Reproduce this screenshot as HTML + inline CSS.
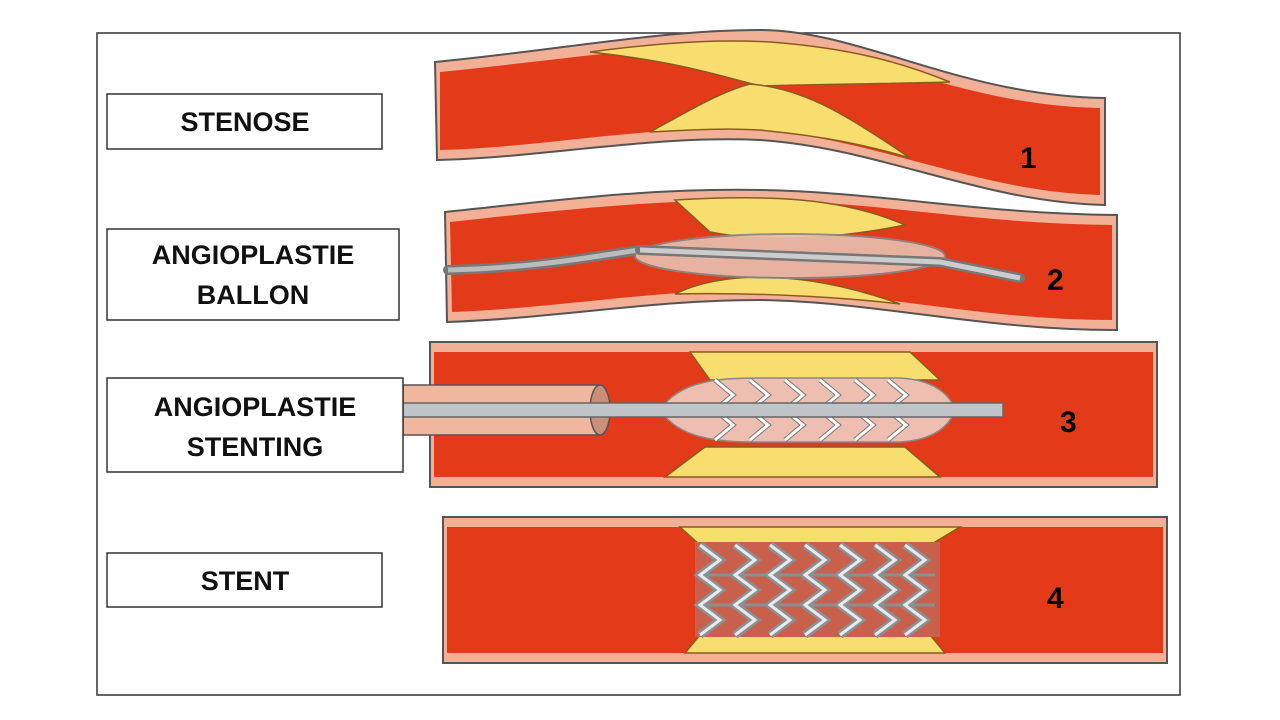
<!DOCTYPE html>
<html><head><style>body{margin:0;background:#fff}svg{display:block}text{font-family:"Liberation Sans",sans-serif;font-weight:bold}</style></head><body>
<svg width="1280" height="720" viewBox="0 0 1280 720">
<rect x="97" y="33" width="1083" height="662" fill="#fff" stroke="#333" stroke-width="1.5"/>
<!-- Vessel 1 -->
<path d="M435,62 C560,50 660,30 760,30 C860,30 960,96 1105,98 L1105,205 C980,202 880,148 760,140 C650,135 540,158 437,160 Z" fill="#f2b196" stroke="#555" stroke-width="2"/>
<path d="M440,72 C560,60 660,44 760,44 C860,44 960,106 1100,108 L1100,195 C980,192 880,140 760,130 C650,124 540,148 440,150 Z" fill="#e33a1a"/>
<path d="M590,52 C680,40 730,40 770,42 C850,48 900,62 950,82 C880,84 820,84 760,86 C720,76 680,62 590,52 Z" fill="#f8de6e" stroke="#8a5a20" stroke-width="1.5"/>
<path d="M650,132 C690,110 720,92 750,84 C800,88 840,110 910,158 C850,140 800,134 760,130 C720,128 690,130 650,132 Z" fill="#f8de6e" stroke="#8a5a20" stroke-width="1.5"/>
<text x="1020" y="168" font-size="30">1</text>
<!-- Vessel 2 -->
<path d="M445,212 C560,200 650,188 760,190 C880,192 980,214 1117,215 L1117,330 C980,330 880,302 760,300 C650,300 560,318 447,322 Z" fill="#f2b196" stroke="#555" stroke-width="2"/>
<path d="M450,222 C560,210 650,200 760,200 C880,202 980,224 1112,225 L1112,320 C980,320 880,292 760,290 C650,290 560,308 452,312 Z" fill="#e33a1a"/>
<path d="M675,200 C760,195 840,196 905,225 C830,240 760,242 710,232 Z" fill="#f8de6e" stroke="#8a5a20" stroke-width="1.5"/>
<path d="M675,294 C720,272 800,268 900,304 C850,298 760,292 675,294 Z" fill="#f8de6e" stroke="#8a5a20" stroke-width="1.5"/>
<path d="M448,270 C540,268 600,255 640,250" fill="none" stroke="#777" stroke-width="10" stroke-linecap="round"/>
<path d="M448,270 C540,268 600,255 640,250" fill="none" stroke="#bbb" stroke-width="5"/>
<ellipse cx="790" cy="256" rx="155" ry="22" fill="#e9c0b0" stroke="#888" stroke-width="2" opacity="0.9"/>
<path d="M640,250 L940,262 L1020,278" fill="none" stroke="#777" stroke-width="10" stroke-linecap="round"/>
<path d="M640,250 L940,262 L1020,278" fill="none" stroke="#ccc" stroke-width="5"/>
<text x="1047" y="290" font-size="30">2</text>
<!-- Vessel 3 -->
<rect x="430" y="342" width="727" height="145" fill="#f2b196" stroke="#555" stroke-width="2"/>
<rect x="434" y="352" width="719" height="125" fill="#e33a1a"/>
<path d="M690,352 L910,352 L940,380 L710,380 Z" fill="#f8de6e" stroke="#8a5a20" stroke-width="1.5"/>
<path d="M665,477 L940,477 L905,447 L705,447 Z" fill="#f8de6e" stroke="#8a5a20" stroke-width="1.5"/>
<rect x="403" y="385" width="197" height="50" fill="#f0b69e" stroke="#555" stroke-width="1.5"/>
<ellipse cx="600" cy="410" rx="10" ry="25" fill="#c98f7a" stroke="#555" stroke-width="1.5"/>
<path d="M660,410 C680,380 720,378 760,378 L900,378 C935,380 950,395 955,410 C950,425 935,440 900,442 L760,442 C720,442 680,440 660,410Z" fill="#eebfb0" stroke="#888" stroke-width="1.5"/>
<g stroke="#777" stroke-width="5" fill="none"><path d="M715,380 l18,15 -18,15 18,15 -18,15 M750,380 l18,15 -18,15 18,15 -18,15 M785,380 l18,15 -18,15 18,15 -18,15 M820,380 l18,15 -18,15 18,15 -18,15 M855,380 l18,15 -18,15 18,15 -18,15 M888,380 l18,15 -18,15 18,15 -18,15"/></g>
<g stroke="#fff" stroke-width="3" fill="none"><path d="M715,380 l18,15 -18,15 18,15 -18,15 M750,380 l18,15 -18,15 18,15 -18,15 M785,380 l18,15 -18,15 18,15 -18,15 M820,380 l18,15 -18,15 18,15 -18,15 M855,380 l18,15 -18,15 18,15 -18,15 M888,380 l18,15 -18,15 18,15 -18,15"/></g>
<rect x="403" y="403" width="600" height="14" fill="#bfc5c8" stroke="#666" stroke-width="1.5"/>
<text x="1060" y="432" font-size="30">3</text>
<!-- Vessel 4 -->
<rect x="443" y="517" width="724" height="146" fill="#f2b196" stroke="#555" stroke-width="2"/>
<rect x="447" y="527" width="716" height="126" fill="#e33a1a"/>
<path d="M680,527 L960,527 L930,545 L700,545 Z" fill="#f8de6e" stroke="#8a5a20" stroke-width="1.5"/>
<path d="M685,653 L945,653 L930,635 L700,635 Z" fill="#f8de6e" stroke="#8a5a20" stroke-width="1.5"/>
<rect x="695" y="542" width="245" height="95" fill="#c9604c"/>
<g stroke="#8a9094" stroke-width="8" fill="none"><path d="M700,545 l20,15 -20,15 20,15 -20,15 20,15 -20,15 M735,545 l20,15 -20,15 20,15 -20,15 20,15 -20,15 M770,545 l20,15 -20,15 20,15 -20,15 20,15 -20,15 M805,545 l20,15 -20,15 20,15 -20,15 20,15 -20,15 M840,545 l20,15 -20,15 20,15 -20,15 20,15 -20,15 M875,545 l20,15 -20,15 20,15 -20,15 20,15 -20,15 M905,545 l20,15 -20,15 20,15 -20,15 20,15 -20,15"/><path d="M700,575 H935 M700,605 H935" stroke-width="3"/></g>
<g stroke="#e8eaeb" stroke-width="3" fill="none"><path d="M700,545 l20,15 -20,15 20,15 -20,15 20,15 -20,15 M735,545 l20,15 -20,15 20,15 -20,15 20,15 -20,15 M770,545 l20,15 -20,15 20,15 -20,15 20,15 -20,15 M805,545 l20,15 -20,15 20,15 -20,15 20,15 -20,15 M840,545 l20,15 -20,15 20,15 -20,15 20,15 -20,15 M875,545 l20,15 -20,15 20,15 -20,15 20,15 -20,15 M905,545 l20,15 -20,15 20,15 -20,15 20,15 -20,15"/></g>
<text x="1047" y="608" font-size="30">4</text>
<!-- Labels -->
<g fill="#fff" stroke="#333" stroke-width="1.5">
<rect x="107" y="94" width="275" height="55"/>
<rect x="107" y="229" width="292" height="91"/>
<rect x="107" y="378" width="296" height="94"/>
<rect x="107" y="553" width="275" height="54"/>
</g>
<g font-size="27" text-anchor="middle" fill="#111">
<text x="245" y="131">STENOSE</text>
<text x="253" y="264">ANGIOPLASTIE</text>
<text x="253" y="304">BALLON</text>
<text x="255" y="416">ANGIOPLASTIE</text>
<text x="255" y="456">STENTING</text>
<text x="245" y="590">STENT</text>
</g>
</svg>
</body></html>
